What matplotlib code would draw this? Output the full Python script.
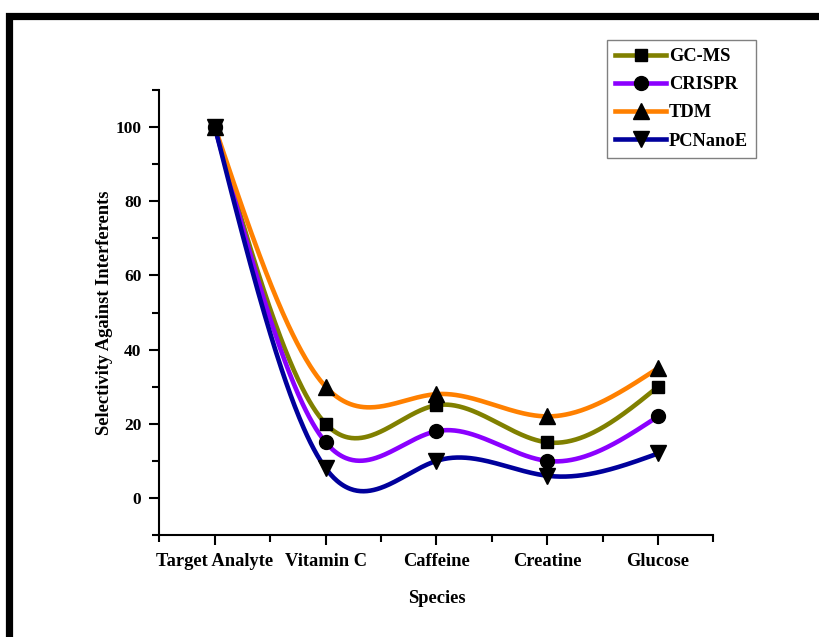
import numpy as np
import matplotlib
matplotlib.use("Agg")
import matplotlib.pyplot as plt
from matplotlib.patches import Rectangle

categories = ["Target Analyte", "Vitamin C", "Caffeine", "Creatine", "Glucose"]
gcms = [100, 20, 25, 15, 30]
crispr = [100, 15, 18, 10, 22]
tdm = [100, 30, 28, 22, 35]
pcnanoe = [100, 8, 10, 6, 12]

series = [
    ("GC-MS", gcms, "#808000", "s", 9),
    ("CRISPR", crispr, "#8B00FF", "o", 10),
    ("TDM", tdm, "#FF8000", "^", 11),
    ("PCNanoE", pcnanoe, "#00009C", "v", 11),
]


def natural_spline(x, y, xs):
    x = np.asarray(x, float)
    y = np.asarray(y, float)
    n = len(x)
    h = np.diff(x)
    A = np.zeros((n, n))
    b = np.zeros(n)
    A[0, 0] = 1
    A[-1, -1] = 1
    for i in range(1, n - 1):
        A[i, i - 1] = h[i - 1]
        A[i, i] = 2 * (h[i - 1] + h[i])
        A[i, i + 1] = h[i]
        b[i] = 3 * ((y[i + 1] - y[i]) / h[i] - (y[i] - y[i - 1]) / h[i - 1])
    c = np.linalg.solve(A, b)
    out = np.empty_like(xs)
    for k, xv in enumerate(xs):
        i = min(max(np.searchsorted(x, xv) - 1, 0), n - 2)
        dx = xv - x[i]
        bi = (y[i + 1] - y[i]) / h[i] - h[i] * (2 * c[i] + c[i + 1]) / 3
        di = (c[i + 1] - c[i]) / (3 * h[i])
        out[k] = y[i] + bi * dx + c[i] * dx ** 2 + di * dx ** 3
    return out


plt.rcParams["font.family"] = ["Liberation Serif", "DejaVu Serif"]
plt.rcParams["font.weight"] = "bold"

fig = plt.figure(figsize=(8.2, 6.37), dpi=100)
ax = fig.add_axes([0.1945, 0.160, 0.6755, 0.6987])

xpos = np.arange(1, len(categories) + 1)
xs = np.linspace(1, len(categories), 400)
for name, vals, color, mk, ms in series:
    ax.plot(xs, natural_spline(xpos, vals, xs), color=color, lw=3.3, zorder=2)
    ax.plot(xpos, vals, linestyle="none", marker=mk, color="black", ms=ms, zorder=3)
    ax.plot([], [], color=color, lw=3.3, marker=mk, mfc="black", mec="black", ms=ms, label=name)

ax.set_xlim(0.5, 5.5)
ax.set_ylim(-10, 110)
ax.set_xticks(xpos)
ax.set_xticklabels(categories)
ax.set_xticks(np.arange(0.5, 5.6, 1.0), minor=True)
ax.set_yticks(np.arange(0, 101, 20))
ax.set_yticks(np.arange(-10, 111, 20), minor=True)
for s in ["top", "right"]:
    ax.spines[s].set_visible(False)
for s in ["left", "bottom"]:
    ax.spines[s].set_linewidth(1.5)
ax.tick_params(axis="both", which="major", direction="out", length=7, width=1.5, pad=6)
ax.tick_params(axis="both", which="minor", direction="out", length=5, width=1.5)
ax.tick_params(axis="x", labelsize=13.3)
ax.tick_params(axis="y", labelsize=12.5)
for lab in ax.get_xticklabels() + ax.get_yticklabels():
    lab.set_fontweight("bold")
ax.set_xlabel("Species", fontsize=13.3, fontweight="bold", labelpad=14)
ax.set_ylabel("Selectivity Against Interferents", fontsize=13.3, fontweight="bold", labelpad=2)

leg = fig.legend(loc="upper left", bbox_to_anchor=(607 / 820, 1 - 40 / 637), borderaxespad=0,
                 fancybox=False, edgecolor="#808080", framealpha=1, handlelength=2.75,
                 handletextpad=0.15, labelspacing=0.6, borderpad=0.45,
                 prop={"size": 13.3, "weight": "bold", "family": "Liberation Serif"})
leg.get_frame().set_linewidth(1.0)

fig.add_artist(Rectangle((8.5 / 820, -0.2), 1.5, 1.2 - 15.5 / 637 + 0.0, transform=fig.transFigure,
                         fill=False, edgecolor="black", linewidth=5.2, clip_on=False))

fig.savefig("out.png", dpi=100)
